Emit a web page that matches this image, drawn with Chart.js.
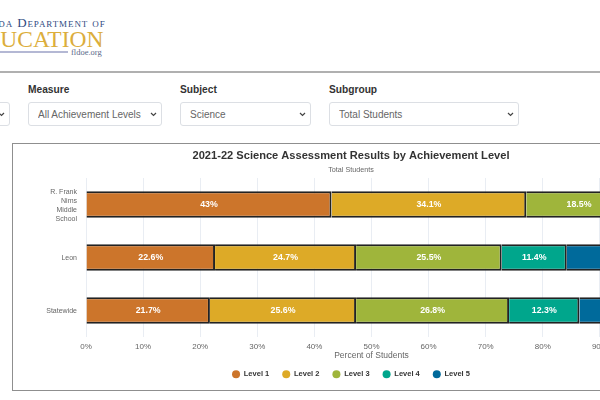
<!DOCTYPE html>
<html>
<head>
<meta charset="utf-8">
<script src="https://cdn.jsdelivr.net/npm/chart.js@4"></script>
<style>
  html, body { margin: 0; padding: 0; width: 600px; height: 400px; overflow: hidden; background: #fff; font-family: "Liberation Sans", Arial, sans-serif; }
  .abs { position: absolute; white-space: nowrap; }
  .logo1 { left: -34.5px; top: 15px; font: 13px "Liberation Serif", serif; font-variant: small-caps; letter-spacing: .9px; color: #2f4a7f; }
  .logo2 { left: -31px; top: 26px; font: 23.5px "Liberation Serif", serif; color: #dcae3c; }
  .logoLine { left: 0; top: 51px; width: 68px; height: 2px; background: #b4b8d4; }
  .logo3 { left: 71px; top: 47px; font: 8.5px "Liberation Serif", serif; color: #5a6a8a; }
  .rule { left: 0; top: 71px; width: 600px; height: 2px; background: #b0b0b0; }
  .lab { top: 84px; font-size: 10.2px; font-weight: bold; color: #333; }
  select { position: absolute; top: 102px; height: 24px; box-sizing: border-box; padding: 0 9px; border: 1px solid #dcdfe4; border-radius: 3px; color: #666; font: 10px "Liberation Sans", Arial, sans-serif;
    -webkit-appearance: none; appearance: none;
    background: #fff url("data:image/svg+xml,%3Csvg xmlns='http://www.w3.org/2000/svg' width='7' height='5'%3E%3Cpath d='M1 1l2.5 2.5L6 1' fill='none' stroke='%23444' stroke-width='1.2'/%3E%3C/svg%3E") no-repeat right 4px center; }
  #frame { position: absolute; left: 12px; top: 143px; width: 676px; height: 246px; border: 1px solid #8f8f8f; }
  #frame canvas { display: block; }
</style>
</head>
<body>
<div class="abs logo1">Florida Department of</div>
<div class="abs logo2">EDUCATION</div>
<div class="abs logoLine"></div>
<div class="abs logo3">fldoe.org</div>
<div class="abs rule"></div>

<select style="left:-120px;width:130px"><option>School</option></select>
<div class="abs lab" style="left:28px">Measure</div>
<select style="left:28px;width:134px"><option>All Achievement Levels</option></select>
<div class="abs lab" style="left:180px">Subject</div>
<select style="left:180px;width:131px"><option>Science</option></select>
<div class="abs lab" style="left:329px">Subgroup</div>
<select style="left:329px;width:190px"><option>Total Students</option></select>

<div id="frame"><canvas id="chart" width="676" height="246"></canvas></div>

<script>
// ── Data ──────────────────────────────────────────────────────
const categories = [["R. Frank", "Nims", "Middle", "School"], "Leon", "Statewide"];
const level1 = [43, 22.6, 21.7];
const level2 = [34.1, 24.7, 25.6];
const level3 = [18.5, 25.5, 26.8];
const level4 = [3.4, 11.4, 12.3];
const level5 = [1, 15.8, 13.6];
const seriesNames = ["Level 1", "Level 2", "Level 3", "Level 4", "Level 5"];
const seriesColors = ["#CC752B", "#DDAA27", "#9FB53B", "#00A68C", "#006A9B"];
const FONT = '"Liberation Sans", Arial, sans-serif';

// ── Value labels inside the bars ──────────────────────────────
const barLabels = {
  id: "barLabels",
  afterDatasetsDraw(chart) {
    const ctx = chart.ctx;
    ctx.save();
    ctx.font = "bold 8.8px " + FONT;
    ctx.fillStyle = "#fff";
    ctx.textAlign = "center";
    ctx.textBaseline = "middle";
    chart.data.datasets.forEach((ds, i) => {
      chart.getDatasetMeta(i).data.forEach((bar, j) => {
        if (ds.data[j] < 5) return;
        const p = bar.getProps(["x", "y", "base"], true);
        ctx.fillText(ds.data[j] + "%", (p.x + p.base) / 2, p.y);
      });
    });
    ctx.restore();
  }
};

// ── Chart ─────────────────────────────────────────────────────
const allLevels = [level1, level2, level3, level4, level5];
new Chart(document.getElementById("chart"), {
  type: "bar",
  plugins: [barLabels],
  data: {
    labels: categories,
    datasets: allLevels.map((vals, i) => ({
      label: seriesNames[i],
      data: vals,
      backgroundColor: seriesColors[i],
      borderColor: "#222",
      borderWidth: 2,
      categoryPercentage: 1,
      barPercentage: 0.5
    }))
  },
  options: {
    indexAxis: "y",
    responsive: false,
    animation: false,
    layout: { padding: { left: 32, right: 32, top: 4, bottom: 2 } },
    plugins: {
      title: { display: true, text: "2021-22 Science Assessment Results by Achievement Level", color: "#333", font: { family: FONT, size: 11.1, weight: "bold" }, padding: { top: 1, bottom: 3 } },
      subtitle: { display: true, text: "Total Students", color: "#666", font: { family: FONT, size: 7.2 }, padding: { bottom: 4 } },
      legend: {
        position: "bottom",
        labels: {
          usePointStyle: true, pointStyle: "circle", pointStyleWidth: 8, boxHeight: 5.5, padding: 13,
          color: "#333", font: { family: FONT, size: 7.5, weight: "bold" },
          generateLabels(chart) {
            return Chart.defaults.plugins.legend.labels.generateLabels(chart).map((item, i) => ({ ...item, strokeStyle: seriesColors[i], lineWidth: 0 }));
          }
        }
      },
      tooltip: { enabled: false }
    },
    scales: {
      x: {
        stacked: true, min: 0, max: 100,
        afterFit(scale) { scale.height = 20.5; },
        ticks: { stepSize: 10, padding: 4.5, color: "#666", font: { family: FONT, size: 8 }, callback: v => v + "%" },
        grid: { color: "#e9edf3", drawTicks: false },
        border: { display: false },
        title: { display: true, text: "Percent of Students", color: "#666", font: { family: FONT, size: 8.5 }, padding: { top: 0, bottom: -3 } }
      },
      y: {
        stacked: true,
        afterFit(scale) { scale.width = 41; },
        ticks: { padding: 9, labelOffset: 1, color: "#666", font: { family: FONT, size: 7, lineHeight: 1.25 } },
        grid: { display: false, drawTicks: false },
        border: { display: false }
      }
    }
  }
});
</script>
</body>
</html>
